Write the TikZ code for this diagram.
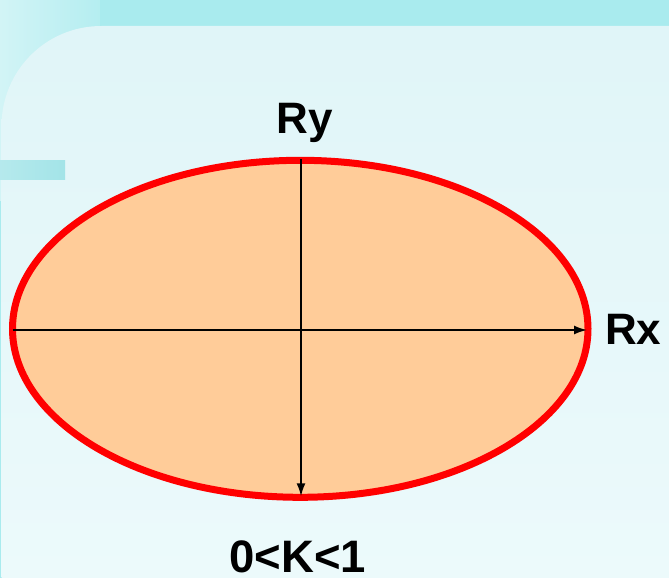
\documentclass[tikz,border=0pt]{standalone}
\usepackage{fontspec}
\setmainfont{Liberation Sans}
\usetikzlibrary{shapes.geometric,arrows.meta}
\definecolor{bandcyan}{HTML}{A9EBEE}
\definecolor{bandlight}{HTML}{D2F4F6}
\definecolor{paneltop}{HTML}{ECFAFB}
\definecolor{panelbot}{HTML}{E0F5F8}
\definecolor{barcyan}{HTML}{A3E4E8}
\definecolor{peach}{HTML}{FFCC99}
\tikzset{
  axisline/.style={line width=1.8pt, -{Latex[length=13pt,width=9pt]}},
  biglabel/.style={inner sep=0pt, font=\bfseries\fontsize{44}{50}\selectfont},
}
\begin{document}
\begin{tikzpicture}[x=1pt,y=-1pt]
\useasboundingbox (0,0) rectangle (669,578);
% background
\fill[bandcyan] (0,0) rectangle (669,578);
\shade[left color=bandlight, right color=bandcyan] (0,0) rectangle (140,200);
\fill[bandcyan] (100,0) rectangle (669,26);
% panel
\shade[top color=panelbot, bottom color=paneltop]
  (1.5,578) -- (1.5,126) .. controls (1.5,70.8) and (45.8,26) .. (101.5,26)
  -- (669,26) -- (669,578) -- cycle;
% small bar
\shade[left color=barcyan!80!white, right color=barcyan] (0,160) rectangle (65,179);
% ellipse
\node[ellipse, draw=red, fill=peach, line width=7pt, outer sep=0pt, inner sep=0pt,
      minimum width=575.5pt, minimum height=337pt] (e) at (300.25,328.8) {};
\coordinate (xs) at (e.west);
\coordinate (xe) at ([xshift=-1pt]e.east);
\coordinate (ys) at ([yshift=1pt]e.north);
\coordinate (ye) at ([yshift=1pt]e.south);
\draw[axisline] (xs |- 0,330) -- (xe |- 0,330);
\draw[axisline] (ys -| 301,0) -- (ye -| 301,0);
% labels
\node[biglabel, anchor=base] (ry) at (304.7,133.3) {Ry};
\node[biglabel, anchor=base west] (rx) at (605,344.3) {Rx};
\node[biglabel, anchor=base, font=\bfseries\fontsize{45.5}{52}\selectfont] (k) at (298,572) {0<K<1};
\end{tikzpicture}
\end{document}
